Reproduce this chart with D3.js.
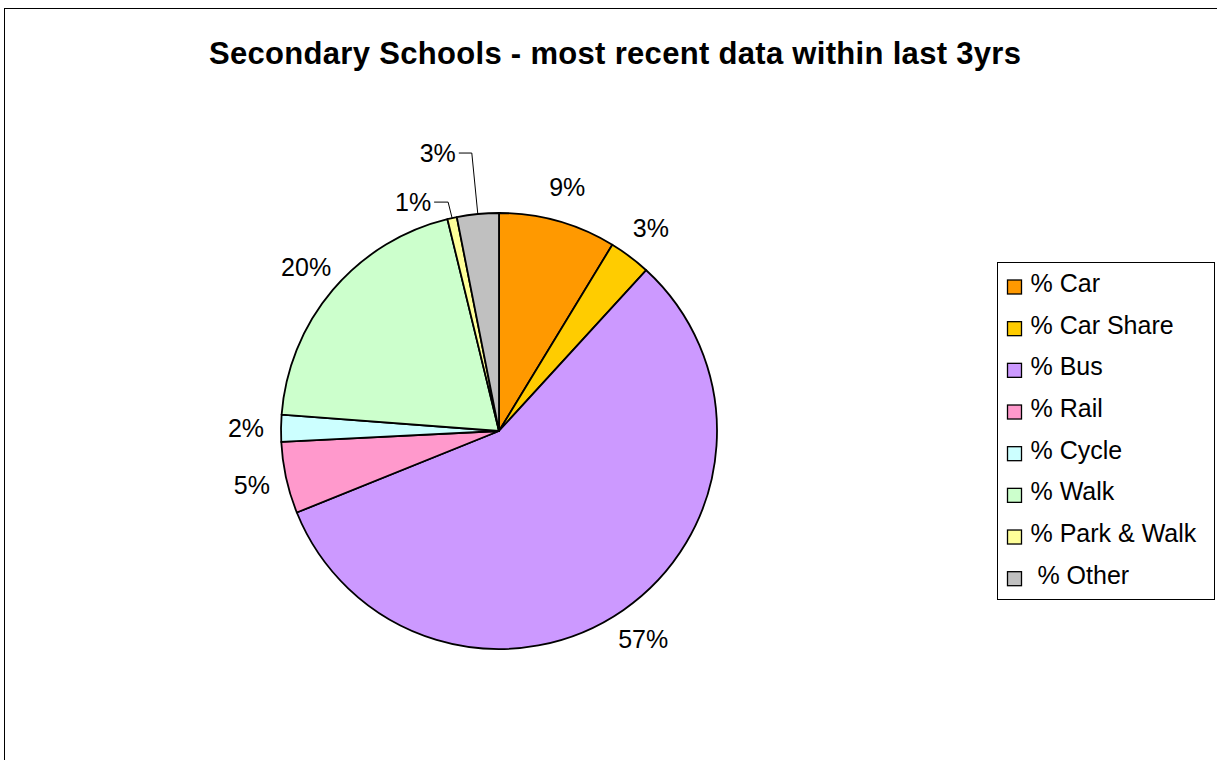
<!DOCTYPE html>
<html>
<head>
<meta charset="utf-8">
<script src="https://cdn.jsdelivr.net/npm/d3@7"></script>
<style>
  html, body { margin: 0; padding: 0; background: #fff; }
  svg { display: block; font-family: "Liberation Sans", Arial, sans-serif; }
</style>
</head>
<body>
<svg id="chart" width="1217" height="760"></svg>
<script>
// ---- data ----
const categories = ["% Car", "% Car Share", "% Bus", "% Rail", "% Cycle", "% Walk", "% Park & Walk", " % Other"];
const values = [8.7, 3.1, 57.1, 5.3, 2.0, 20.0, 0.7, 3.1];
const colors = ["#FF9900", "#FFCC00", "#CC99FF", "#FF99CC", "#CCFFFF", "#CCFFCC", "#FFFF99", "#C0C0C0"];
const title = "Secondary Schools - most recent data within last 3yrs";

const data = categories.map((c, i) => ({ name: c, value: values[i], color: colors[i] }));

const svg = d3.select("#chart");
const W = 1217, H = 760;

// chart area border
svg.append("rect")
  .attr("x", 4.5).attr("y", 8.5)
  .attr("width", W + 10).attr("height", H + 10)
  .attr("fill", "#fff").attr("stroke", "#000").attr("stroke-width", 1);

// title
svg.append("text")
  .attr("x", 615).attr("y", 64)
  .attr("text-anchor", "middle")
  .attr("font-size", 31).attr("font-weight", "bold")
  .attr("textLength", 812).attr("lengthAdjust", "spacing")
  .attr("fill", "#000")
  .text(title);

// pie
const cx = 499, cy = 431, R = 218;
const pie = d3.pie().value(d => d.value).sort(null).startAngle(0).endAngle(2 * Math.PI);
const arcs = pie(data);
const arc = d3.arc().innerRadius(0).outerRadius(R);

const g = svg.append("g").attr("transform", `translate(${cx},${cy})`);
g.selectAll("path.slice")
  .data(arcs)
  .enter().append("path")
  .attr("class", "slice")
  .attr("d", arc)
  .attr("fill", d => d.data.color)
  .attr("stroke", "#000")
  .attr("stroke-width", 1.8)
  .attr("stroke-linejoin", "round");

// labels
const fmt = v => Math.round(v) + "%";
const midA = d => (d.startAngle + d.endAngle) / 2;
const pt = (a, r) => [r * Math.sin(a), -r * Math.cos(a)];
const labelR = 253;
const FS = 25;
// labels that Excel pulled away with leader lines: offset of bend from slice edge point
const leader = {
  6: { dy: -16, hx: -4, hLen: 14 },
  7: { dy: -61, hx: -6, hLen: 13 }
};

arcs.forEach((d, i) => {
  const a = midA(d);
  if (leader[i]) {
    const L = leader[i];
    const [ex, ey] = pt(a, R);
    const bendX = ex + L.hx, bendY = ey + L.dy;
    g.append("polyline")
      .attr("points", [[ex, ey], [bendX, bendY], [bendX - L.hLen, bendY]].map(p => p.join(",")).join(" "))
      .attr("fill", "none").attr("stroke", "#000").attr("stroke-width", 1);
    g.append("text")
      .attr("x", bendX - L.hLen - 3)
      .attr("y", bendY)
      .attr("dy", "0.35em")
      .attr("text-anchor", "end")
      .attr("font-size", FS).attr("fill", "#000")
      .text(fmt(d.data.value));
  } else {
    const [lx, ly] = pt(a, labelR);
    g.append("text")
      .attr("x", lx).attr("y", ly)
      .attr("dy", "0.35em")
      .attr("text-anchor", "middle")
      .attr("font-size", FS).attr("fill", "#000")
      .text(fmt(d.data.value));
  }
});

// legend
const lg = svg.append("g");
lg.append("rect")
  .attr("x", 997.5).attr("y", 262.5)
  .attr("width", 217).attr("height", 337)
  .attr("fill", "#fff").attr("stroke", "#000").attr("stroke-width", 1);

const rowY = d3.scalePoint().domain(categories).range([292, 292 + 41.67 * 7]);
const rows = lg.selectAll("g.row").data(data).enter().append("g").attr("class", "row")
  .attr("transform", d => `translate(0,${rowY(d.name)})`);
rows.append("rect")
  .attr("x", 1007.5).attr("y", -12)
  .attr("width", 14).attr("height", 14)
  .attr("fill", d => d.color).attr("stroke", "#000").attr("stroke-width", 1.3);
rows.append("text")
  .attr("x", 1030.5).attr("y", 0)
  .attr("font-size", FS).attr("fill", "#000")
  .attr("xml:space", "preserve")
  .style("white-space", "pre")
  .text(d => d.name);
</script>
</body>
</html>
